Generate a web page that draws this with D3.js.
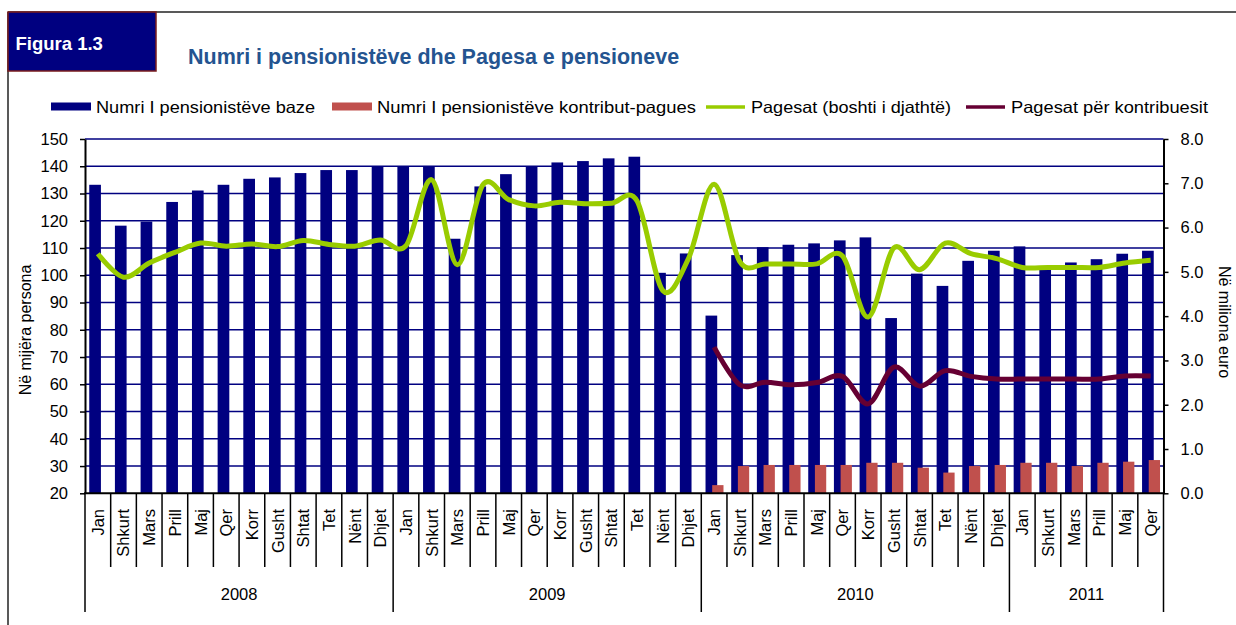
<!DOCTYPE html>
<html>
<head>
<meta charset="utf-8">
<script src="https://d3js.org/d3.v7.min.js"></script>
<style>
  body { margin: 0; background: #fff; }
  svg { display: block; font-family: "Liberation Sans", Arial, sans-serif; }
</style>
</head>
<body>
<div id="draw-space"></div>
<script>
// month and year labels of the category axis
const months = ['Jan', 'Shkurt', 'Mars', 'Prill', 'Maj', 'Qer', 'Korr', 'Gusht', 'Shtat', 'Tet', 'Nënt', 'Dhjet'];
const years = ['2008', '2009', '2010', '2011'];
const monthsPerYear = [12, 12, 12, 6];

// left axis: thousands of persons
const pensionersBase = [
  133.2, 118.2, 119.7, 126.9, 131.1, 133.2, 135.4, 135.9, 137.5, 138.6, 138.6, 139.9,
  139.9, 140.1, 113.4, 132.6, 137.1, 139.9, 141.4, 141.9, 142.9, 143.5, 100.9, 108.0,
  85.2, 107.4, 110.3, 111.2, 111.7, 112.8, 113.9, 84.3, 100.6, 96.1, 105.3, 109.0,
  110.6, 102.8, 104.7, 105.9, 107.9, 109.0
];
const pensionersContrib = [
  null, null, null, null, null, null, null, null, null, null, null, null,
  null, null, null, null, null, null, null, null, null, null, null, null,
  23.0, 30.0, 30.4, 30.4, 30.4, 30.4, 31.2, 31.2, 29.4, 27.6, 30.0, 30.4,
  31.2, 31.2, 30.0, 31.2, 31.6, 32.2
];

// right axis: million euro
const payments = [
  5.41, 4.88, 5.20, 5.44, 5.65, 5.58, 5.63, 5.57, 5.71, 5.62, 5.58, 5.72,
  5.59, 7.08, 5.16, 6.97, 6.63, 6.49, 6.57, 6.54, 6.55, 6.60, 4.58, 5.30,
  6.98, 5.23, 5.18, 5.18, 5.18, 5.36, 3.98, 5.54, 5.05, 5.65, 5.41, 5.30,
  5.10, 5.10, 5.10, 5.10, 5.20, 5.26
];
const contribPayments = [
  null, null, null, null, null, null, null, null, null, null, null, null,
  null, null, null, null, null, null, null, null, null, null, null, null,
  3.30, 2.45, 2.51, 2.45, 2.50, 2.64, 2.02, 2.85, 2.42, 2.77, 2.64, 2.58,
  2.58, 2.58, 2.58, 2.58, 2.65, 2.65
];

const leftTicks = [20, 30, 40, 50, 60, 70, 80, 90, 100, 110, 120, 130, 140, 150];
const rightTicks = [0, 1, 2, 3, 4, 5, 6, 7, 8];

const seriesNames = [
  'Numri I pensionistëve baze',
  'Numri I pensionistëve kontribut-pagues',
  'Pagesat (boshti i djathtë)',
  'Pagesat për kontribuesit'
];

const BLUE = '#000080',
      RED = '#C0504D',
      GREEN = '#99CC00',
      PURPLE = '#660033';

const categories = [];
years.forEach((y, yi) => {
  months.slice(0, monthsPerYear[yi]).forEach(m => categories.push({ year: y, month: m }));
});

const width = 1236, height = 625;
const plot = { left: 85, right: 1163.5, top: 139, bottom: 493.3 };

const svg = d3.select('#draw-space')
              .append('svg')
              .attr('width', width)
              .attr('height', height);

svg.append('rect')
   .attr('width', width)
   .attr('height', height)
   .attr('fill', '#fff');

// frame and figure tag
svg.append('line')
   .attr('x1', 8).attr('x2', width)
   .attr('y1', 12).attr('y2', 12)
   .attr('stroke', '#222').attr('stroke-width', 1.5);

svg.append('line')
   .attr('x1', 8).attr('x2', 8)
   .attr('y1', 12).attr('y2', height)
   .attr('stroke', '#222').attr('stroke-width', 1.5);

svg.append('rect')
   .attr('x', 8).attr('y', 12)
   .attr('width', 148).attr('height', 59)
   .attr('fill', BLUE)
   .attr('stroke', '#7a1c1c')
   .attr('stroke-width', 1.5);

svg.append('text')
   .attr('x', 15.5).attr('y', 50)
   .attr('fill', '#fff')
   .attr('font-weight', 'bold')
   .attr('font-size', 18.5)
   .text('Figura 1.3');

svg.append('text')
   .attr('x', 188).attr('y', 64)
   .attr('fill', '#245490')
   .attr('font-weight', 'bold')
   .attr('font-size', 21.5)
   .text('Numri i pensionistëve dhe Pagesa e pensioneve');

// scales
const xScale = d3.scaleBand()
                 .domain(d3.range(categories.length))
                 .range([plot.left, plot.right])
                 .padding(0);
const bw = xScale.bandwidth();

const yLeft = d3.scaleLinear()
                .domain([20, 150])
                .range([plot.bottom, plot.top]);

const yRight = d3.scaleLinear()
                 .domain([0, 8])
                 .range([plot.bottom, plot.top]);

// gridlines
svg.append('g')
   .selectAll('line')
   .data(leftTicks.slice(1))
   .enter()
   .append('line')
     .attr('x1', plot.left).attr('x2', plot.right)
     .attr('y1', d => yLeft(d)).attr('y2', d => yLeft(d))
     .attr('stroke', BLUE)
     .attr('stroke-width', 1.4);

// bars
svg.append('g')
   .selectAll('rect')
   .data(pensionersBase)
   .enter()
   .append('rect')
     .attr('x', (d, i) => xScale(i) + bw * 0.165)
     .attr('width', bw * 0.455)
     .attr('y', d => yLeft(d))
     .attr('height', d => yLeft(20) - yLeft(d))
     .attr('fill', BLUE);

svg.append('g')
   .selectAll('rect')
   .data(pensionersContrib.map((v, i) => ({ v, i })).filter(d => d.v != null))
   .enter()
   .append('rect')
     .attr('x', d => xScale(d.i) + bw * 0.425)
     .attr('width', bw * 0.44)
     .attr('y', d => yLeft(d.v))
     .attr('height', d => yLeft(20) - yLeft(d.v))
     .attr('fill', RED);

// smoothed lines on the right axis
const line = d3.line()
               .defined(d => d != null)
               .x((d, i) => xScale(i) + bw / 2)
               .y(d => yRight(d))
               .curve(d3.curveCatmullRom.alpha(0));

svg.append('path')
   .attr('d', line(payments))
   .attr('fill', 'none')
   .attr('stroke', GREEN)
   .attr('stroke-width', 5)
   .attr('stroke-linejoin', 'round');

svg.append('path')
   .attr('d', line(contribPayments))
   .attr('fill', 'none')
   .attr('stroke', PURPLE)
   .attr('stroke-width', 5)
   .attr('stroke-linejoin', 'round');

// axes
const leftAxis = svg.append('g')
                    .attr('transform', `translate(${plot.left},0)`)
                    .call(d3.axisLeft(yLeft)
                            .tickValues(leftTicks)
                            .tickSize(5)
                            .tickSizeOuter(0)
                            .tickPadding(12)
                            .tickFormat(d3.format('d')));

const rightAxis = svg.append('g')
                     .attr('transform', `translate(${plot.right},0)`)
                     .call(d3.axisRight(yRight)
                             .tickValues(rightTicks)
                             .tickSize(5)
                             .tickSizeOuter(0)
                             .tickPadding(12)
                             .tickFormat(d3.format('.1f')));

[leftAxis, rightAxis].forEach(ax => {
  ax.select('.domain').attr('stroke', '#000').attr('stroke-width', 2);
  ax.selectAll('.tick line').attr('stroke', '#000').attr('stroke-width', 1.5);
  ax.selectAll('.tick text')
    .attr('font-size', 16.5)
    .attr('font-family', '"Liberation Sans", Arial, sans-serif')
    .attr('fill', '#000');
});

svg.append('line')
   .attr('x1', plot.left - 1).attr('x2', plot.right + 1)
   .attr('y1', plot.bottom).attr('y2', plot.bottom)
   .attr('stroke', '#000').attr('stroke-width', 2);

// category axis: month separators, year separators, labels
const xAxis = svg.append('g');

const boundaries = d3.range(categories.length + 1);
const yearStarts = [0];
monthsPerYear.forEach((n, i) => yearStarts.push(yearStarts[i] + n));

const edge = i => i < categories.length ? xScale(i) : plot.right;

xAxis.selectAll('.month-sep')
     .data(boundaries.filter(b => !yearStarts.includes(b)))
     .enter()
     .append('line')
       .attr('x1', d => edge(d)).attr('x2', d => edge(d))
       .attr('y1', plot.bottom).attr('y2', 567)
       .attr('stroke', '#000').attr('stroke-width', 1.5);

xAxis.selectAll('.year-sep')
     .data(yearStarts)
     .enter()
     .append('line')
       .attr('x1', d => edge(d)).attr('x2', d => edge(d))
       .attr('y1', plot.bottom).attr('y2', 612)
       .attr('stroke', '#000').attr('stroke-width', 1.5);

xAxis.selectAll('.month-label')
     .data(categories)
     .enter()
     .append('text')
       .attr('transform', (d, i) => `translate(${xScale(i) + bw / 2},509) rotate(-90)`)
       .attr('text-anchor', 'end')
       .attr('dy', '0.36em')
       .attr('font-size', 16.5)
       .text(d => d.month);

xAxis.selectAll('.year-label')
     .data(years)
     .enter()
     .append('text')
       .attr('x', (d, i) => (edge(yearStarts[i]) + edge(yearStarts[i + 1])) / 2)
       .attr('y', 600)
       .attr('text-anchor', 'middle')
       .attr('font-size', 16.5)
       .text(d => d);

// axis titles
svg.append('text')
   .attr('transform', 'translate(25,330) rotate(-90)')
   .attr('text-anchor', 'middle')
   .attr('dy', '0.35em')
   .attr('font-size', 16)
   .text('Në mijëra  persona');

svg.append('text')
   .attr('transform', 'translate(1225,322) rotate(90)')
   .attr('text-anchor', 'middle')
   .attr('dy', '0.35em')
   .attr('font-size', 16)
   .text('Në miliona euro');

// legend
const legendX = [51, 332, 706, 966];
const legendTextW = [219, 319, 200, 197];
const legendKinds = [
  { type: 'bar', color: BLUE },
  { type: 'bar', color: RED },
  { type: 'line', color: GREEN },
  { type: 'line', color: PURPLE }
];

const legend = svg.append('g');

legendKinds.forEach((k, i) => {
  if (k.type === 'bar') {
    legend.append('rect')
          .attr('x', legendX[i]).attr('y', 102.5)
          .attr('width', 40).attr('height', 8)
          .attr('fill', k.color);
  } else {
    legend.append('line')
          .attr('x1', legendX[i]).attr('x2', legendX[i] + 39)
          .attr('y1', 107).attr('y2', 107)
          .attr('stroke', k.color)
          .attr('stroke-width', 3.5);
  }
  legend.append('text')
        .attr('x', legendX[i] + 45)
        .attr('y', 113)
        .attr('font-size', 16.5)
        .attr('textLength', legendTextW[i])
        .attr('lengthAdjust', 'spacingAndGlyphs')
        .text(seriesNames[i]);
});
</script>
</body>
</html>
